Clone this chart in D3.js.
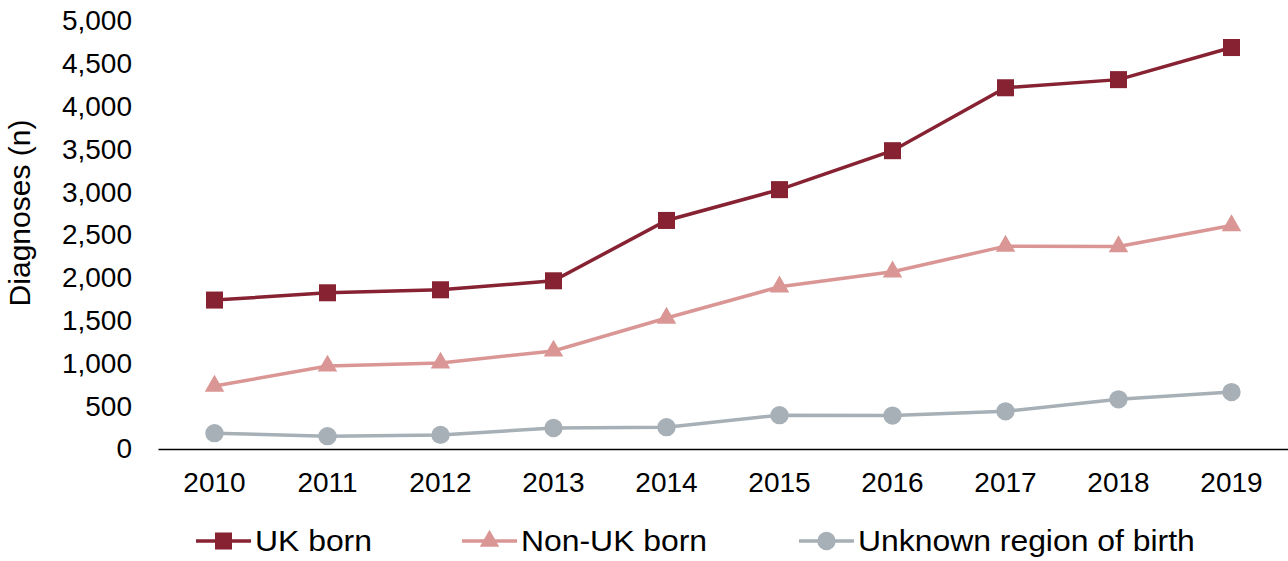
<!DOCTYPE html>
<html>
<head>
<meta charset="utf-8">
<script src="https://cdn.jsdelivr.net/npm/d3@7"></script>
<style>
  body { margin: 0; background: #fff; }
  svg text { font-family: "Liberation Sans", Arial, sans-serif; fill: #000; }
</style>
</head>
<body>
<div id="chart"></div>
<script>
var years = ['2010', '2011', '2012', '2013', '2014', '2015', '2016', '2017', '2018', '2019'];
var ukBorn = [1740, 1825, 1860, 1965, 2670, 3030, 3485, 4220, 4315, 4690];
var nonUkBorn = [735, 970, 1005, 1145, 1530, 1895, 2070, 2370, 2365, 2610];
var unknownBirth = [185, 150, 165, 245, 255, 395, 390, 440, 580, 665];
var yTicks = [0, 500, 1000, 1500, 2000, 2500, 3000, 3500, 4000, 4500, 5000];
var seriesNames = ['UK born', 'Non-UK born', 'Unknown region of birth'];

var W = 1288, H = 561;
var svg = d3.select('#chart').append('svg')
    .attr('width', W)
    .attr('height', H);

var x = d3.scaleBand().domain(years).range([158, 1288]);
var y = d3.scaleLinear().domain([0, 5000]).range([449, 21]);

var series = [
    { name: seriesNames[0], values: ukBorn, color: '#862232', shape: d3.symbolSquare, size: 290 },
    { name: seriesNames[1], values: nonUkBorn, color: '#da9694', shape: d3.symbolTriangle, size: 165 },
    { name: seriesNames[2], values: unknownBirth, color: '#a6b0b6', shape: d3.symbolCircle, size: 265 }
];

// y axis: labels only
svg.append('g')
    .attr('transform', 'translate(158,0)')
    .call(d3.axisLeft(y).tickValues(yTicks).tickSize(0).tickPadding(26)
        .tickFormat(d3.format(',')))
    .call(function(g) { g.select('.domain').remove(); })
    .selectAll('text')
    .style('font-size', '28px');

// x axis
var xg = svg.append('g')
    .attr('transform', 'translate(0,449)')
    .call(d3.axisBottom(x).tickSize(0).tickPadding(23));
xg.select('.domain').attr('stroke', '#000').attr('stroke-width', 1.5);
xg.selectAll('text').style('font-size', '28px');

svg.append('text')
    .attr('transform', 'translate(30,213) rotate(-90)')
    .attr('text-anchor', 'middle')
    .style('font-size', '30px')
    .text('Diagnoses (n)');

var line = d3.line()
    .x(function(d, i) { return x(years[i]) + x.bandwidth() / 2; })
    .y(function(d) { return y(d); });

series.forEach(function(s) {
    svg.append('path')
        .datum(s.values)
        .attr('d', line)
        .attr('fill', 'none')
        .attr('stroke', s.color)
        .attr('stroke-width', 3.5);
    svg.selectAll(null)
        .data(s.values)
        .enter()
        .append('path')
        .attr('d', d3.symbol().type(s.shape).size(s.size))
        .attr('transform', function(d, i) {
            return 'translate(' + (x(years[i]) + x.bandwidth() / 2) + ',' + y(d) + ')';
        })
        .attr('fill', s.color);
});

// legend (text a bit wider than tall, like the original)
var legendX = [196, 462, 799];
var legend = svg.selectAll('.legend')
    .data(series)
    .enter()
    .append('g')
    .attr('class', 'legend')
    .attr('transform', function(d, i) { return 'translate(' + legendX[i] + ',541)'; });
legend.append('line')
    .attr('x1', 0).attr('x2', 55)
    .attr('stroke', function(d) { return d.color; })
    .attr('stroke-width', 3.5);
legend.append('path')
    .attr('d', function(d) { return d3.symbol().type(d.shape).size(d.size)(); })
    .attr('transform', 'translate(27.5,0)')
    .attr('fill', function(d) { return d.color; });
legend.append('text')
    .attr('transform', 'translate(59,0) scale(1.1,1)')
    .attr('dy', '0.35em')
    .style('font-size', '29px')
    .text(function(d) { return d.name; });
</script>
</body>
</html>
